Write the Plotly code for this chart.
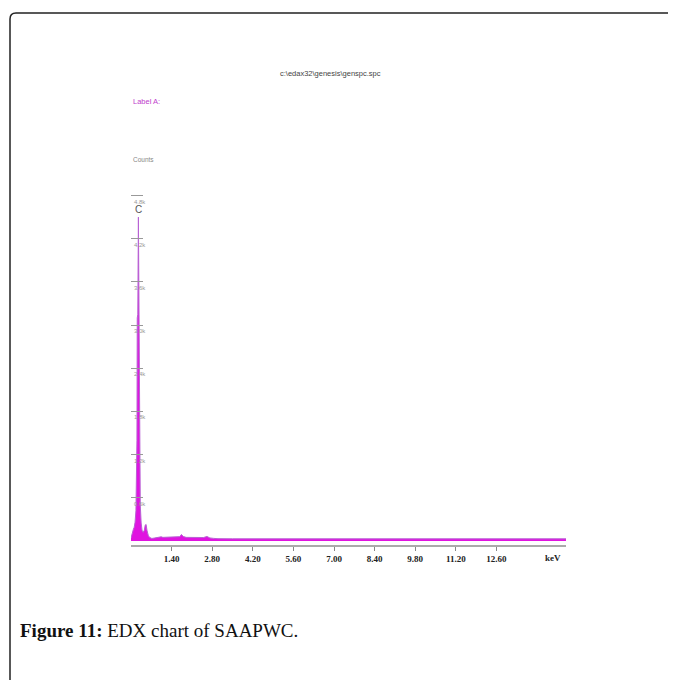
import plotly.graph_objects as go

# ---------------- data ----------------
energy_keV = [0.00, 0.04, 0.08, 0.11, 0.14, 0.17, 0.19, 0.205, 0.215, 0.235, 0.255, 0.27,
              0.285, 0.30, 0.32, 0.35, 0.38, 0.42, 0.46, 0.49, 0.52, 0.55, 0.60, 0.66,
              0.72, 0.80, 0.90, 1.00, 1.04, 1.10, 1.20, 1.30, 1.40, 1.50, 1.60, 1.68,
              1.74, 1.80, 1.90, 2.00, 2.10, 2.20, 2.30, 2.40, 2.50, 2.62, 2.72, 2.85,
              3.00, 3.50, 4.00, 5.00, 6.00, 7.00, 8.00, 9.00, 10.0, 11.0, 12.0, 13.0,
              14.0, 15.0]
counts = [40, 120, 160, 190, 260, 420, 900, 1400, 3100, 3150, 4500, 3100,
          2950, 1300, 500, 250, 150, 120, 150, 220, 230, 150, 70, 45,
          35, 40, 48, 50, 58, 50, 52, 48, 55, 50, 52, 60,
          90, 62, 50, 48, 52, 46, 50, 45, 48, 62, 42, 36,
          32, 30, 30, 30, 29, 30, 30, 29, 30, 29, 30, 29,
          30, 30]

x_tick_vals = [1.40, 2.80, 4.20, 5.60, 7.00, 8.40, 9.80, 11.20, 12.60]
x_tick_labels = ["1.40", "2.80", "4.20", "5.60", "7.00", "8.40", "9.80", "11.20", "12.60"]
y_tick_vals = [600, 1200, 1800, 2400, 3000, 3600, 4200, 4800]
y_tick_labels = ["0.6k", "1.2k", "1.8k", "2.4k", "3.0k", "3.6k", "4.2k", "4.8k"]
element_names = ["C"]
element_keV = [0.27]
element_counts = [4500]

title_text = "c:\\edax32\\genesis\\genspc.spc"
label_text = "Label A:"
counts_text = "Counts"
unit_text = "keV"
caption_bold = "Figure 11:"
caption_rest = " EDX chart of SAAPWC."

# page body has an 8px margin: figure fills the rest of the 676x680 window
OFF = 8
W, H = 676 - OFF, 680 - OFF
def px(x):
    return (x - OFF) / W
def py(y):
    return 1 - (y - OFF) / H

fig = go.Figure()
fig.add_trace(go.Scatter(
    x=energy_keV, y=counts, mode="lines",
    line=dict(color="#b862d4", width=1.0),
    fill="tozeroy", fillcolor="#e014e0",
    hoverinfo="x+y", showlegend=False,
))

annotations = []
for v, t in zip(y_tick_vals, y_tick_labels):
    annotations.append(dict(x=0, y=v, xref="x", yref="y", text=t, showarrow=False,
                            xanchor="left", yanchor="top", xshift=1, yshift=-1,
                            font=dict(size=6, color="#999999", family="Liberation Sans, sans-serif")))
for n, e, c in zip(element_names, element_keV, element_counts):
    annotations.append(dict(x=e, y=c, xref="x", yref="y", text=n, showarrow=False,
                            xanchor="center", yanchor="bottom", yshift=0,
                            font=dict(size=10, color="#555555", family="Liberation Sans, sans-serif")))
annotations.append(dict(x=14.55, y=py(558), xref="x", yref="paper", text="<b>" + unit_text + "</b>",
                        showarrow=False, xanchor="center", yanchor="middle",
                        font=dict(size=9, color="#222222", family="Liberation Serif, serif")))
annotations.append(dict(x=px(330), y=py(74), xref="paper", yref="paper", text=title_text,
                        showarrow=False, xanchor="center", yanchor="middle",
                        font=dict(size=7.5, color="#444444", family="Liberation Sans, sans-serif")))
annotations.append(dict(x=px(131), y=py(102), xref="paper", yref="paper", text=label_text,
                        showarrow=False, xanchor="left", yanchor="middle",
                        font=dict(size=7.5, color="#c040cc", family="Liberation Sans, sans-serif")))
annotations.append(dict(x=px(131), y=py(159), xref="paper", yref="paper", text=counts_text,
                        showarrow=False, xanchor="left", yanchor="middle",
                        font=dict(size=6.5, color="#888888", family="Liberation Sans, sans-serif")))
annotations.append(dict(x=px(18), y=py(630), xref="paper", yref="paper",
                        text="<b>" + caption_bold + "</b>" + caption_rest,
                        showarrow=False, xanchor="left", yanchor="middle",
                        font=dict(size=19, color="#111111", family="Liberation Serif, serif")))

fx, fy = px(10), py(13)
rx, ry = 6 / W, 6 / H
frame_path = f"M {fx},-0.02 L {fx},{fy - ry} Q {fx},{fy} {fx + rx},{fy} L 1.02,{fy}"

fig.update_layout(
    width=W, height=H, autosize=False,
    margin=dict(l=0, r=0, t=0, b=0),
    paper_bgcolor="white", plot_bgcolor="white",
    showlegend=False,
    annotations=annotations,
    shapes=[dict(type="path", path=frame_path, xref="paper", yref="paper",
                 line=dict(color="#222222", width=1.5))],
    xaxis=dict(domain=[px(131), px(566)], range=[0, 15], showgrid=False, zeroline=False,
               showline=True, linecolor="#aaaaaa", linewidth=1.5,
               ticks="outside", ticklen=4, tickcolor="#888888", tickwidth=1,
               tickvals=x_tick_vals, ticktext=["<b>" + t + "</b>" for t in x_tick_labels],
               tickfont=dict(size=9, color="#222222", family="Liberation Serif, serif")),
    yaxis=dict(domain=[py(545), py(174)], range=[-56, 5100], showgrid=False, zeroline=False,
               showline=False, ticks="inside", ticklen=12, tickcolor="#999999", tickwidth=1,
               tickvals=y_tick_vals, showticklabels=False),
)

fig.write_html("out.html")
